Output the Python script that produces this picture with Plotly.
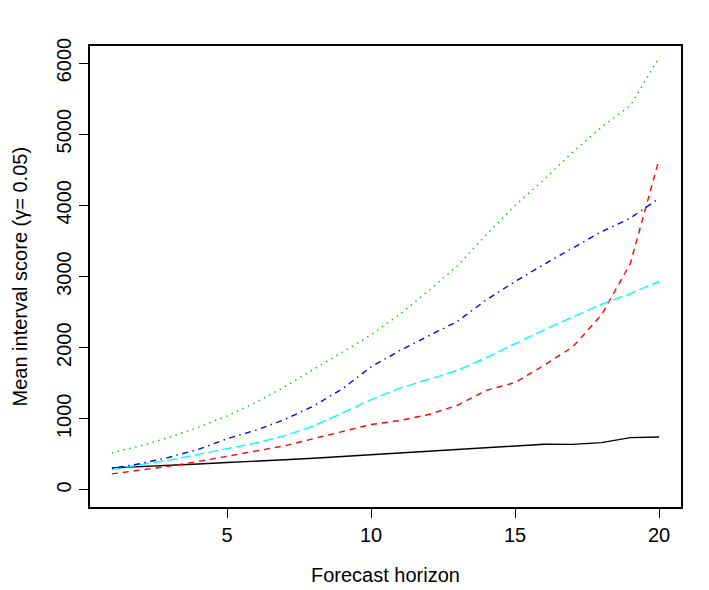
import plotly.graph_objects as go

horizon = list(range(1, 21))

black_vals = [310, 325, 345, 365, 385, 410, 425, 445, 470, 495,
              520, 545, 570, 590, 615, 642, 640, 665, 735, 745]
red_vals = [225, 275, 335, 400, 470, 540, 620, 720, 820, 920,
            975, 1060, 1190, 1400, 1510, 1750, 2010, 2460, 3180, 4650]
cyan_vals = [290, 350, 420, 500, 580, 660, 760, 900, 1080, 1270,
             1430, 1550, 1680, 1860, 2060, 2250, 2430, 2610, 2760, 2930]
blue_vals = [300, 370, 460, 570, 720, 840, 990, 1180, 1420, 1730,
             1960, 2170, 2370, 2670, 2930, 3170, 3400, 3630, 3820, 4100]
green_vals = [520, 620, 740, 880, 1040, 1230, 1450, 1690, 1930, 2180,
              2470, 2800, 3150, 3590, 4000, 4360, 4750, 5100, 5400, 6080]

x_ticks = [5, 10, 15, 20]
y_ticks = [0, 1000, 2000, 3000, 4000, 5000, 6000]

series = [
    (black_vals, "black", "solid"),
    (red_vals, "red", "6px,5px"),
    (cyan_vals, "cyan", "10px,4px"),
    (blue_vals, "blue", "1.5px,4.5px,6px,4.5px"),
    (green_vals, "#00cd00", "1.5px,4.5px"),
]

fig = go.Figure()
for vals, col, dash in series:
    fig.add_trace(go.Scatter(x=horizon, y=vals, mode="lines",
                             line=dict(color=col, width=1.4, dash=dash),
                             showlegend=False, hoverinfo="skip"))

font = "Liberation Sans, Arial, Helvetica, sans-serif"
fig.update_layout(
    width=709, height=590,
    margin=dict(l=90, r=28, t=46, b=83),
    paper_bgcolor="white", plot_bgcolor="white",
    font=dict(family=font, size=20, color="black"),
    xaxis=dict(range=[0.24, 20.76], tickvals=x_ticks, ticks="outside",
               ticklen=9, tickwidth=1, tickcolor="black", showgrid=False,
               zeroline=False, showline=True, linecolor="black", linewidth=1.5,
               mirror=True, tickfont=dict(size=20)),
    yaxis=dict(range=[-240, 6240], tickvals=y_ticks, ticks="outside",
               ticklen=9, tickwidth=1, tickcolor="black", showgrid=False,
               zeroline=False, showline=True, linecolor="black", linewidth=1.5,
               mirror=True, tickangle=-90, tickfont=dict(size=20)),
    annotations=[
        dict(text="Forecast horizon", xref="paper", yref="paper", x=0.5, y=0,
             xanchor="center", yanchor="middle", yshift=-68, showarrow=False,
             font=dict(size=20)),
        dict(text="Mean interval score (\u03b3= 0.05)", xref="paper", yref="paper",
             x=0, y=0.5, xanchor="center", yanchor="middle", xshift=-71,
             textangle=-90, showarrow=False, font=dict(size=20)),
    ],
)

fig.write_html("out.html")
